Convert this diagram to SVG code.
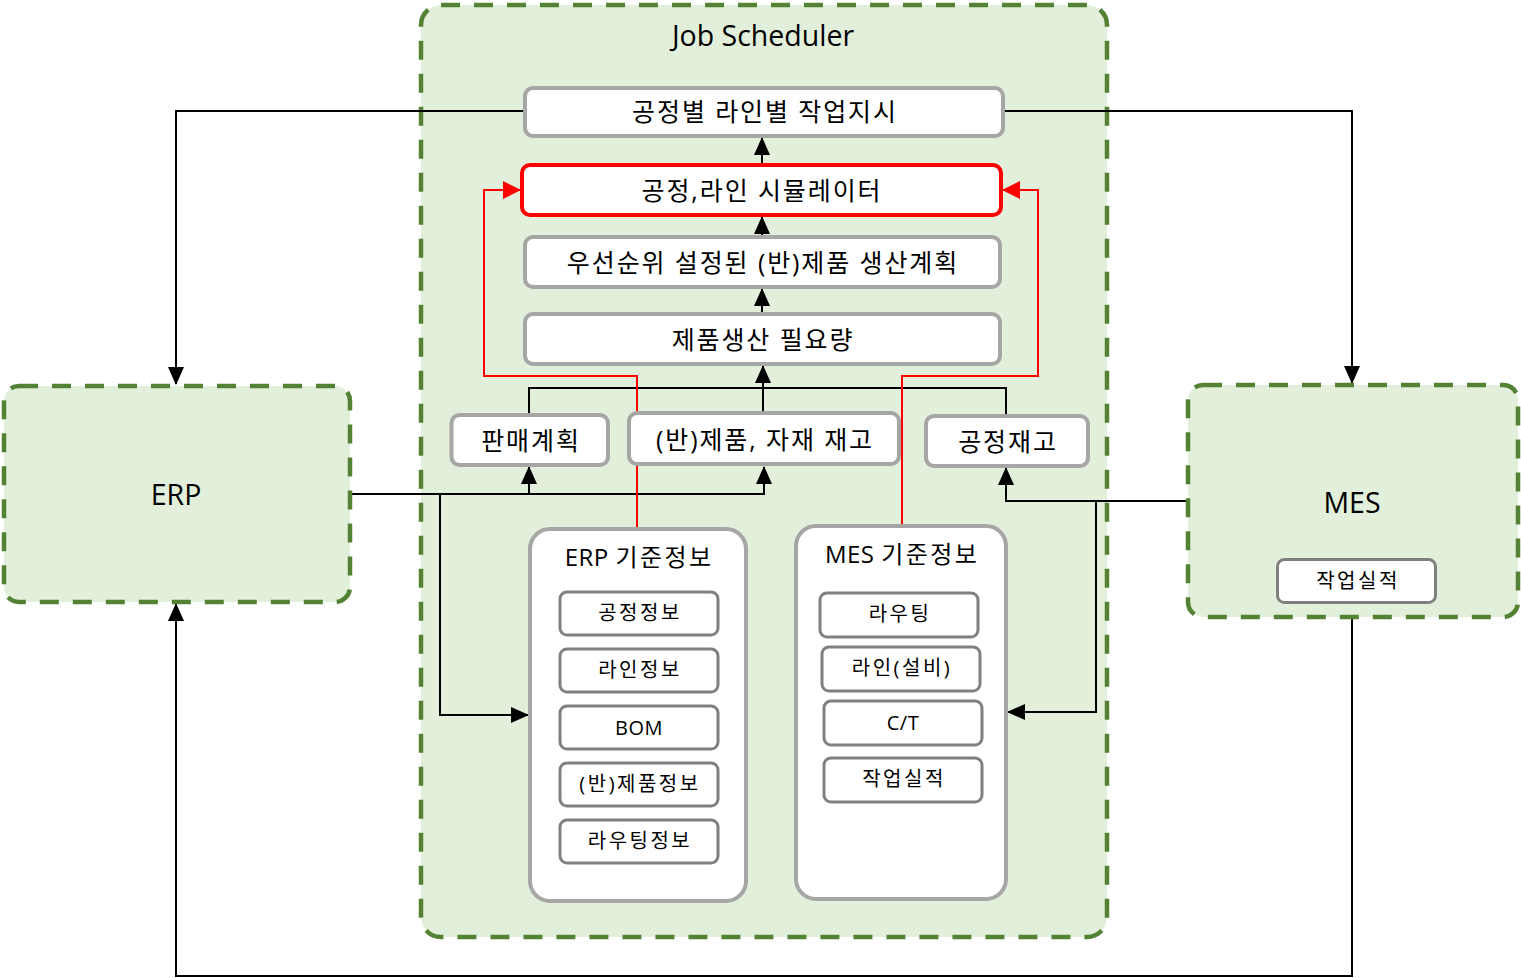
<svg xmlns="http://www.w3.org/2000/svg" width="1521" height="978" viewBox="0 0 1521 978">
<defs>
<marker id="ab" markerUnits="userSpaceOnUse" markerWidth="18" markerHeight="16" refX="17" refY="8" orient="auto"><path d="M0,0 L18,8 L0,16 z" fill="#000"/></marker>
<marker id="ar" markerUnits="userSpaceOnUse" markerWidth="18" markerHeight="18" refX="17" refY="9" orient="auto"><path d="M0,0 L18,9 L0,18 z" fill="#ff0000"/></marker>
<style>
.grp{fill:#e2efda;stroke:#548235;stroke-width:4.5;stroke-dasharray:19 14}
.box{fill:#fff;stroke:#a6a6a6;stroke-width:4}
.item{fill:#fff;stroke:#808080;stroke-width:3}
.red{fill:#fff;stroke:#ff0000;stroke-width:4}
text{font-family:"Open Sans","Noto Sans CJK KR",sans-serif;fill:#000;text-anchor:middle;dominant-baseline:central}
.t25{font-size:25px;letter-spacing:1.9px}
.t24{font-size:24px;letter-spacing:2.4px}
.t20{font-size:20px;letter-spacing:2.5px}
.lat{letter-spacing:0.5px}
.t28{font-size:28.5px}
.cb{fill:none;stroke:#000;stroke-width:2;marker-end:url(#ab)}
.cn{fill:none;stroke:#000;stroke-width:2}
.cr{fill:none;stroke:#ff0000;stroke-width:2;marker-end:url(#ar)}
</style>
</defs>
<rect width="1521" height="978" fill="#fff"/>
<g id="job-scheduler">
<rect class="grp" x="421" y="5" width="686" height="932" rx="20"/>
<text class="t28" x="763" y="35">Job Scheduler</text>
</g>
<g id="connectors">
<path class="cb" d="M523,111 H176 V384"/>
<path class="cb" d="M1005,111 H1352 V383"/>
<path class="cb" d="M762,165 V138"/>
<path class="cb" d="M762,237 V217"/>
<path class="cb" d="M762,314 V289"/>
<path class="cn" d="M529,415 V388 H1006 V416"/>
<path class="cb" d="M763,413 V366"/>
<path class="cb" d="M352,494 H764 V467"/>
<path class="cb" d="M529,494 V467"/>
<path class="cb" d="M440,494 V715 H528"/>
<path class="cb" d="M1186,501 H1006 V468"/>
<path class="cb" d="M1096,501 V712 H1008"/>
<path class="cb" d="M1352,619 V976 H176 V604"/>
<path class="cr" d="M637,527 V376 H484 V190 H520"/>
<path class="cr" d="M902,524 V376 H1038 V190 H1003"/>
</g>
<g id="erp">
<rect class="grp" x="4" y="386" width="346" height="216" rx="15"/>
<text class="t28" x="176" y="494">ERP</text>
</g>
<g id="mes">
<rect class="grp" x="1188" y="385" width="330" height="232" rx="15"/>
<text class="t28" x="1352" y="502">MES</text>
</g>
<g id="mes-result">
<rect class="item" x="1277.5" y="559.5" width="158" height="43" rx="7"/>
<text class="t20" x="1358" y="580">작업실적</text>
</g>
<g id="work-order">
<rect class="box" x="525" y="88" width="478" height="48" rx="8"/>
<text class="t25" x="765" y="111">공정별 라인별 작업지시</text>
</g>
<g id="simulator">
<rect class="red" x="522" y="165" width="479" height="50" rx="8"/>
<text class="t25" x="762" y="190">공정,라인 시뮬레이터</text>
</g>
<g id="plan">
<rect class="box" x="525" y="237" width="475" height="50" rx="8"/>
<text class="t25" x="763" y="262">우선순위 설정된 (반)제품 생산계획</text>
</g>
<g id="requirement">
<rect class="box" x="525" y="314" width="475" height="50" rx="8"/>
<text class="t25" x="763" y="339">제품생산 필요량</text>
</g>
<g id="sales-plan">
<rect class="box" x="451.5" y="415" width="156.5" height="50" rx="8"/>
<text class="t25" x="531" y="440">판매계획</text>
</g>
<g id="inventory">
<rect class="box" x="629" y="413" width="270" height="51" rx="8"/>
<text class="t25" x="765" y="439">(반)제품, 자재 재고</text>
</g>
<g id="wip">
<rect class="box" x="926" y="416" width="162" height="50" rx="8"/>
<text class="t25" x="1008" y="441">공정재고</text>
</g>
<g id="erp-master">
<rect class="box" x="530" y="529" width="216" height="372" rx="20"/>
<text class="t24" x="639" y="556"><tspan class="lat">ERP </tspan>기준정보</text>
</g>
<g id="erp-process"><rect class="item" x="560" y="592" width="158" height="43" rx="7"/><text class="t20" x="640" y="612">공정정보</text></g>
<g id="erp-line"><rect class="item" x="560" y="649" width="158" height="43" rx="7"/><text class="t20" x="640" y="669">라인정보</text></g>
<g id="erp-bom"><rect class="item" x="560" y="706" width="158" height="43" rx="7"/><text class="t20 lat" x="639" y="727">BOM</text></g>
<g id="erp-product"><rect class="item" x="560" y="763" width="158" height="43" rx="7"/><text class="t20" x="640" y="783">(반)제품정보</text></g>
<g id="erp-routing"><rect class="item" x="560" y="820" width="158" height="43" rx="7"/><text class="t20" x="640" y="840">라우팅정보</text></g>
<g id="mes-master">
<rect class="box" x="796" y="526" width="210" height="373" rx="20"/>
<text class="t24" x="902" y="553"><tspan class="lat">MES </tspan>기준정보</text>
</g>
<g id="mes-routing"><rect class="item" x="820" y="593" width="158" height="44" rx="7"/><text class="t20" x="900" y="613">라우팅</text></g>
<g id="mes-line"><rect class="item" x="822" y="647" width="158" height="44" rx="7"/><text class="t20" x="902" y="667">라인(설비)</text></g>
<g id="mes-ct"><rect class="item" x="824" y="701" width="158" height="44" rx="7"/><text class="t20 lat" x="903" y="722">C/T</text></g>
<g id="mes-actual"><rect class="item" x="824" y="758" width="158" height="44" rx="7"/><text class="t20" x="904" y="778">작업실적</text></g>
</svg>
